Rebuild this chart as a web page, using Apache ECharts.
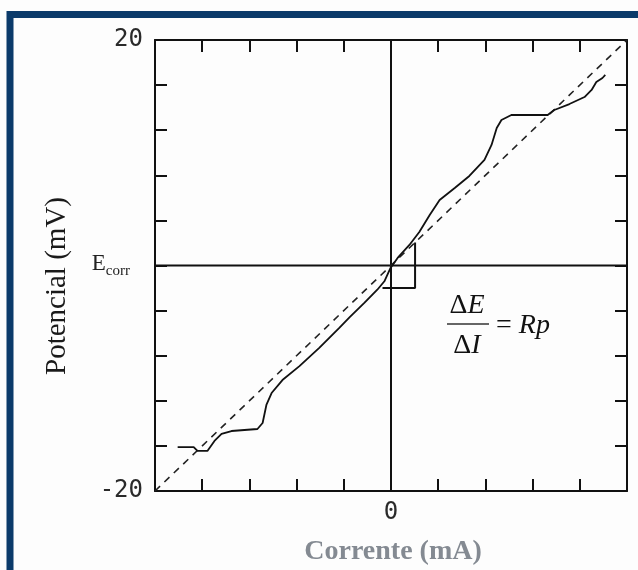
<!DOCTYPE html>
<html>
<head>
<meta charset="utf-8">
<script src="https://cdn.jsdelivr.net/npm/echarts@6/dist/echarts.min.js"></script>
<style>
html,body{margin:0;padding:0;background:#fff;}
#c{width:638px;height:570px;}
</style>
</head>
<body>
<div id="c"></div>
<script>
// Measured polarization curve (current in mA, potential in mV)
const currentMA = [-4.52,-4.18,-4.10,-3.89,-3.74,-3.59,-3.38,-2.83,-2.72,-2.64,-2.53,-2.30,-1.94,-1.52,-1.09,-0.88,-0.56,-0.29,-0.14,-0.01,0.14,0.39,0.60,0.82,1.03,1.35,1.66,1.98,2.13,2.24,2.34,2.55,3.32,3.46,3.78,4.10,4.25,4.35,4.48,4.54];
const potentialMV = [-16.1,-16.1,-16.45,-16.45,-15.56,-14.94,-14.68,-14.5,-13.97,-12.37,-11.31,-10.16,-8.92,-7.3,-5.5,-4.6,-3.3,-2.15,-1.4,-0.22,0.67,1.82,2.97,4.48,5.81,6.87,7.94,9.36,10.69,12.2,12.9,13.35,13.35,13.79,14.32,14.94,15.57,16.27,16.63,16.9];
// Linear fit (dashed) endpoints
const fitCurrent = [-5, 5];
const fitPotential = [-20, 20];
// Delta box (ΔI, ΔE)
const boxCurrent = [-0.18, 0.51, 0.51];
const boxPotential = [-2.0, -2.0, 2.04];
// Axis ranges / ticks
const xRange = [-5, 5];
const yRange = [-20, 20];
const xTickStep = 1;
const yTickStep = 4;
const xLabelShown = ['0'];
const yLabelShown = ['20', '-20'];

const zip = (a, b) => a.map((v, i) => [v, b[i]]);

const chart = echarts.init(document.getElementById('c'), null, {renderer: 'canvas'});
const labelFont = {fontFamily: 'DejaVu Sans Mono', fontSize: 24, color: '#2a2a2a'};
const axisLine = {show: true, onZero: false, lineStyle: {color: '#111', width: 2}};
const tick = {show: true, inside: true, length: 12, lineStyle: {color: '#111', width: 2}};
const serif = '"Liberation Serif"';

chart.setOption({
  animation: false,
  backgroundColor: '#fdfdfd',
  grid: {left: 155, top: 40, right: 11, bottom: 79, containLabel: false},
  xAxis: [{
    type: 'value', min: xRange[0], max: xRange[1], interval: xTickStep, position: 'bottom',
    axisLine: axisLine, axisTick: tick, splitLine: {show: false},
    axisLabel: Object.assign({margin: 10, showMinLabel: false, showMaxLabel: false,
      formatter: v => xLabelShown.includes(String(v)) ? String(v) : ''}, labelFont)
  }, {
    type: 'value', min: xRange[0], max: xRange[1], interval: xTickStep, position: 'top',
    axisLine: axisLine, axisTick: tick, splitLine: {show: false}, axisLabel: {show: false}
  }],
  yAxis: [{
    type: 'value', min: yRange[0], max: yRange[1], interval: yTickStep, position: 'left',
    axisLine: axisLine, axisTick: tick, splitLine: {show: false},
    axisLabel: Object.assign({margin: 12, showMinLabel: true, showMaxLabel: true,
      formatter: v => {
        if (v === 0) return '{e|E}{s|corr}';
        return yLabelShown.includes(String(v)) ? String(v) : '';
      },
      rich: {
        e: {fontFamily: 'Liberation Serif', fontSize: 23, color: '#222', verticalAlign: 'bottom', padding: [0,0,4,0]},
        s: {fontFamily: 'Liberation Serif', fontSize: 15, color: '#222', verticalAlign: 'bottom', padding: [0,13,0,0]}
      }}, labelFont)
  }, {
    type: 'value', min: yRange[0], max: yRange[1], interval: yTickStep, position: 'right',
    axisLine: axisLine, axisTick: tick, splitLine: {show: false}, axisLabel: {show: false}
  }],
  series: [
    {type: 'line', data: zip(fitCurrent, fitPotential), showSymbol: false, symbol: 'none',
     lineStyle: {color: '#222', width: 1.6, type: [7, 6]}, z: 3},
    {type: 'line', data: zip(currentMA, potentialMV), showSymbol: false, symbol: 'none',
     lineStyle: {color: '#111', width: 1.8}, z: 4},
    {type: 'line', data: zip([0, 0], yRange), showSymbol: false, symbol: 'none',
     lineStyle: {color: '#111', width: 2}, z: 2},
    {type: 'line', data: zip(xRange, [0, 0]), showSymbol: false, symbol: 'none',
     lineStyle: {color: '#111', width: 2}, z: 2},
    {type: 'line', data: zip(boxCurrent, boxPotential), showSymbol: false, symbol: 'none',
     lineStyle: {color: '#111', width: 2}, z: 2}
  ],
  graphic: [
    {type: 'rect', shape: {x: 10, y: 14.5, width: 800, height: 800}, silent: true,
     style: {fill: null, stroke: '#0b3a6a', lineWidth: 7}, z: 100},
    {type: 'text', x: 57, y: 286, rotation: Math.PI / 2, silent: true,
     style: {text: 'Potencial (mV)', font: '29px ' + serif, fill: '#1a1a1a', align: 'center', verticalAlign: 'middle'}},
    {type: 'text', x: 393, y: 552, silent: true,
     style: {text: 'Corrente (mA)', font: 'bold 28px ' + serif, fill: '#848a92', align: 'center', verticalAlign: 'middle'}},
    {type: 'text', x: 467, y: 306, silent: true,
     style: {text: '{u|Δ}{i|E}', align: 'center', verticalAlign: 'middle',
       rich: {u: {font: '28px ' + serif, fill: '#111'}, i: {font: 'italic 28px ' + serif, fill: '#111'}}}},
    {type: 'line', shape: {x1: 447, y1: 324, x2: 489, y2: 324}, silent: true,
     style: {stroke: '#333', lineWidth: 1.5}},
    {type: 'text', x: 467, y: 346, silent: true,
     style: {text: '{u|Δ}{i|I}', align: 'center', verticalAlign: 'middle',
       rich: {u: {font: '28px ' + serif, fill: '#111'}, i: {font: 'italic 28px ' + serif, fill: '#111'}}}},
    {type: 'text', x: 496, y: 326, silent: true,
     style: {text: '{u|= }{i|Rp}', align: 'left', verticalAlign: 'middle',
       rich: {u: {font: '28px ' + serif, fill: '#111'}, i: {font: 'italic 28px ' + serif, fill: '#111'}}}}
  ]
});
</script>
</body>
</html>
